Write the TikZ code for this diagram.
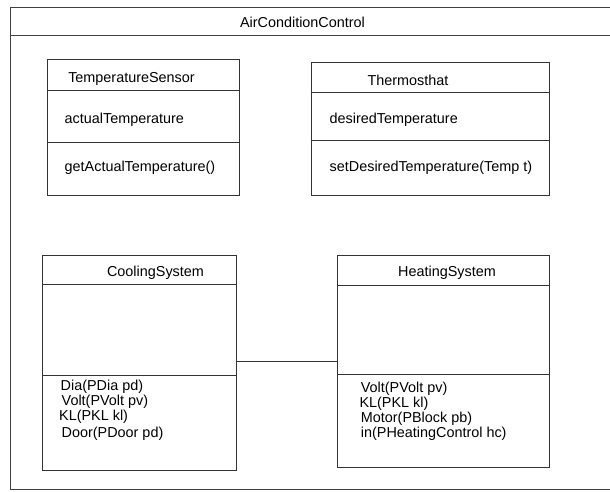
\documentclass[tikz,border=0pt]{standalone}
\usepackage{fontspec}
\setmainfont{Liberation Sans}
\begin{document}
\begin{tikzpicture}[x=1pt,y=-1pt,
  frame/.style={draw=black!75,line width=1pt,rectangle,inner sep=0pt},
  classbox/.style={draw=black!80,line width=0.9pt,rectangle,inner sep=0pt},
  divider/.style={draw=black!80,line width=0.9pt},
  label/.style={inner sep=0pt,anchor=base west,font=\fontsize{14.4}{16}\selectfont},
  title/.style={inner sep=0pt,anchor=base,font=\fontsize{14.4}{16}\selectfont}]
\clip (0,0) rectangle (610,491);
\fill[white] (0,0) rectangle (610,491);

% package frame
\node[frame,minimum width=629.5pt,minimum height=482.5pt] (pkg) at (325.25,248.25) {};
\coordinate (pkgdiv) at (0,35.7);
\draw[divider,draw=black!75,line width=1pt] (pkg.west |- pkgdiv) -- (pkg.east |- pkgdiv);
\node[title] (pkgname) at (302.5,27.3) {AirConditionControl};

% TemperatureSensor
\node[classbox,minimum width=191.3pt,minimum height=136.4pt] (ts) at (143.35,127.5) {};
\coordinate (tsd1) at (0,90.7);
\coordinate (tsd2) at (0,142);
\draw[divider] (ts.west |- tsd1) -- (ts.east |- tsd1);
\draw[divider] (ts.west |- tsd2) -- (ts.east |- tsd2);
\node[title] (tsname) at (131.5,82) {TemperatureSensor};
\node[label] (tsattr) at (64.5,123) {actualTemperature};
\node[label] (tsop) at (64.5,171.5) {getActualTemperature()};

% Thermosthat
\node[classbox,minimum width=238pt,minimum height=132.3pt] (th) at (430,128.85) {};
\coordinate (thd1) at (0,92.7);
\coordinate (thd2) at (0,140.7);
\draw[divider] (th.west |- thd1) -- (th.east |- thd1);
\draw[divider] (th.west |- thd2) -- (th.east |- thd2);
\node[title] (thname) at (408,85) {Thermosthat};
\node[label] (thattr) at (329.5,123) {desiredTemperature};
\node[label] (thop) at (329.5,171) {setDesiredTemperature(Temp t)};

% CoolingSystem
\node[classbox,minimum width=193.7pt,minimum height=214.7pt] (cs) at (139.15,362.65) {};
\coordinate (csd1) at (0,284);
\coordinate (csd2) at (0,375);
\draw[divider] (cs.west |- csd1) -- (cs.east |- csd1);
\draw[divider] (cs.west |- csd2) -- (cs.east |- csd2);
\node[title] (csname) at (155.5,276) {CoolingSystem};
\node[label] (cs1) at (60.5,390) {Dia(PDia pd)};
\node[label] (cs2) at (61.5,405) {Volt(PVolt pv)};
\node[label] (cs3) at (59,420) {KL(PKL kl)};
\node[label] (cs4) at (61.5,437.5) {Door(PDoor pd)};

% HeatingSystem
\node[classbox,minimum width=211.3pt,minimum height=211.7pt] (hs) at (443.35,361.15) {};
\coordinate (hsd1) at (0,285);
\coordinate (hsd2) at (0,374.3);
\draw[divider] (hs.west |- hsd1) -- (hs.east |- hsd1);
\draw[divider] (hs.west |- hsd2) -- (hs.east |- hsd2);
\node[title] (hsname) at (447,276) {HeatingSystem};
\node[label] (hs1) at (360.7,392) {Volt(PVolt pv)};
\node[label] (hs2) at (359.3,407) {KL(PKL kl)};
\node[label] (hs3) at (360.7,422) {Motor(PBlock pb)};
\node[label] (hs4) at (360.7,437) {in(PHeatingControl hc)};

% association between the two systems
\coordinate (assoc) at (0,361.7);
\draw[divider] (cs.east |- assoc) -- (hs.west |- assoc);
\end{tikzpicture}
\end{document}
